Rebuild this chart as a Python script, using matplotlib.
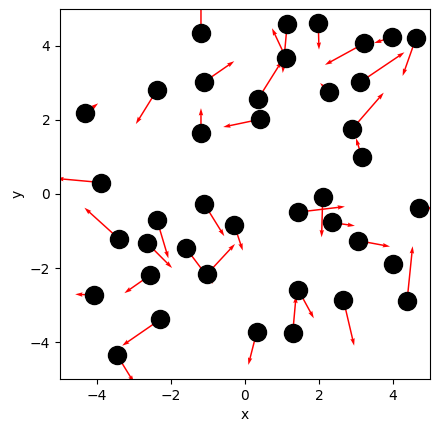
import numpy as np
import matplotlib
matplotlib.use("Agg")
import matplotlib.pyplot as plt

# point positions
x = [-1.19, 1.14, 1.98, 3.22, 3.97, 4.62, 1.11, 3.11, 0.36, 2.28,
     0.41, 2.89, 3.16, -1.10, -2.38, -4.32, -1.19, -3.89, -1.10, -3.40,
     -2.38, -2.65, -1.59, -0.29, -2.56, -1.03, -4.07, -2.29, -3.46, 2.10,
     1.44, 2.35, 3.06, 4.71, 3.99, 1.44, 1.29, 2.66, 4.38, 0.32]
y = [4.34, 4.59, 4.61, 4.07, 4.24, 4.21, 3.67, 3.02, 2.58, 2.75,
     2.02, 1.75, 0.99, 3.03, 2.81, 2.18, 1.64, 0.31, -0.27, -1.22,
     -0.70, -1.32, -1.47, -0.84, -2.19, -2.17, -2.73, -3.39, -4.35, -0.09,
     -0.49, -0.77, -1.26, -0.39, -1.90, -2.59, -3.76, -2.86, -2.89, -3.72]

# arrow tips
x_end = [-1.19, 1.02, 2.00, 2.16, 3.49, 4.26, 0.73, 4.31, 1.00, 2.03,
         -0.59, 3.75, 3.00, -0.29, -2.95, -3.97, -1.19, -5.10, -0.56, -4.34,
         -2.07, -1.97, -0.87, -0.06, -3.26, -0.27, -4.59, -3.32, -3.00, 2.07,
         2.70, 2.97, 3.92, 5.10, 4.22, 1.86, 1.38, 2.95, 4.53, 0.09]
y_end = [5.30, 3.27, 3.90, 3.49, 4.08, 3.19, 4.48, 3.83, 3.60, 3.00,
         1.81, 2.74, 1.51, 3.59, 1.89, 2.45, 2.32, 0.42, -1.14, -0.37,
         -1.74, -2.00, -2.43, -1.53, -2.68, -1.35, -2.71, -4.10, -5.10, -1.17,
         -0.34, -0.86, -1.42, -0.38, -1.74, -3.36, -2.75, -4.10, -1.41, -4.62]

x = np.array(x)
y = np.array(y)
u = np.array(x_end) - x
v = np.array(y_end) - y

fig = plt.figure(figsize=(4.39, 4.32), dpi=100)
ax = fig.add_axes([60 / 439, 53 / 432, 370 / 439, 370 / 432])

ax.quiver(x, y, u, v, angles='xy', scale_units='xy', scale=1, color='red',
          width=0.004, zorder=2)
ax.plot(x, y, 'o', color='black', markersize=13, zorder=3)

ax.set_xlim(-5, 5)
ax.set_ylim(-5, 5)
ax.set_xticks([-4, -2, 0, 2, 4])
ax.set_yticks([-4, -2, 0, 2, 4])
ax.set_xlabel('x')
ax.set_ylabel('y')

fig.savefig('out.png', dpi=100)
